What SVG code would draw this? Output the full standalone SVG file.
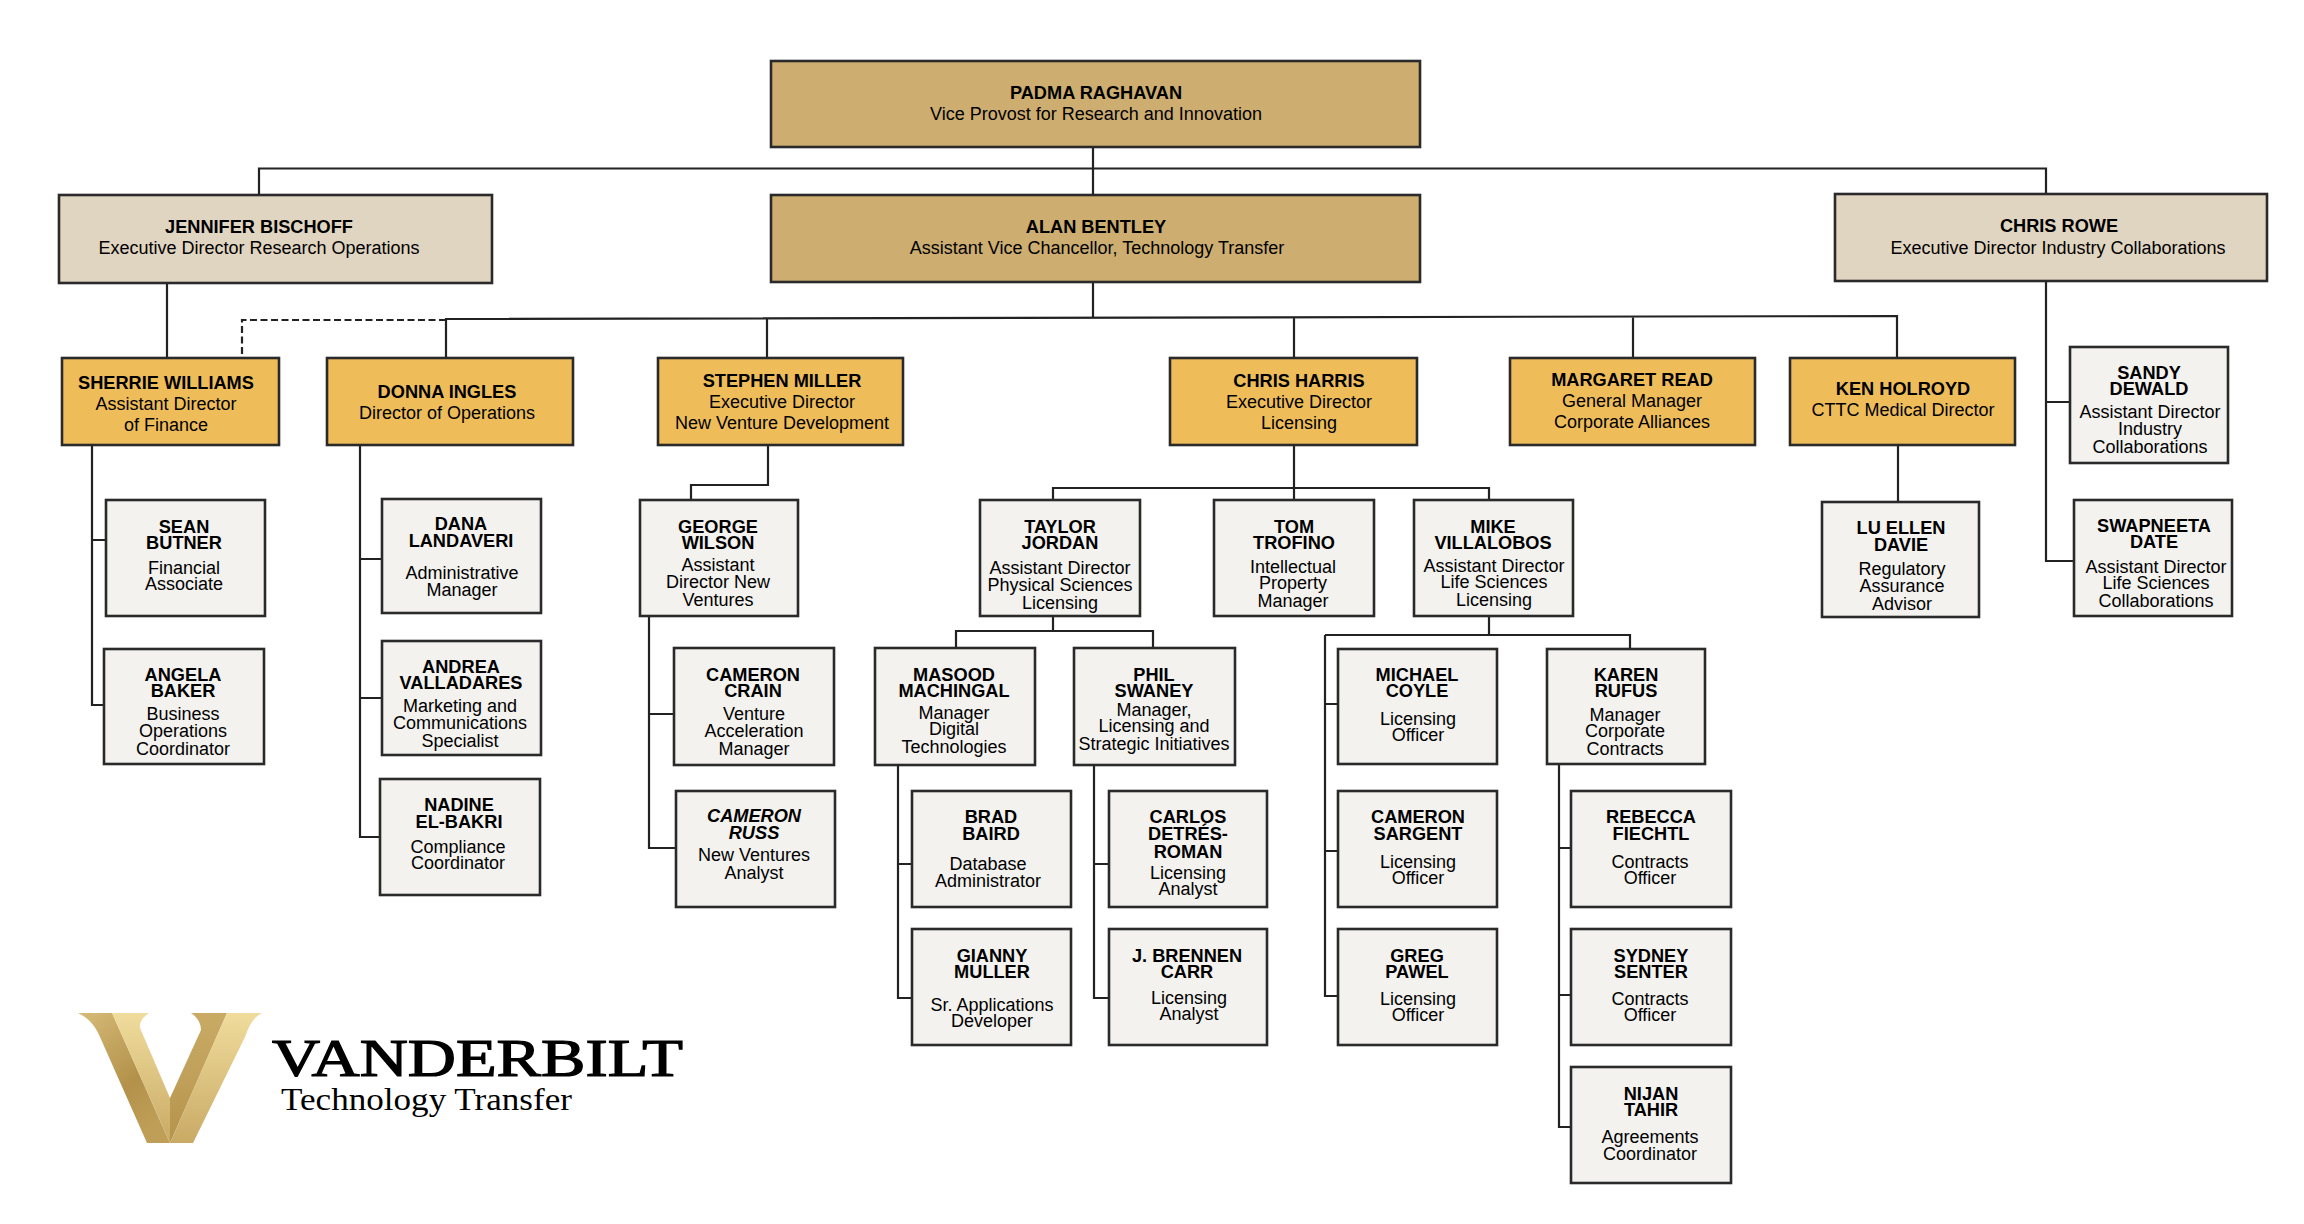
<svg xmlns="http://www.w3.org/2000/svg" width="2304" height="1224" viewBox="0 0 2304 1224">
<style>
.b{stroke:#2a2a2a;stroke-width:2.6}
.t{fill:#cdae70}.k{fill:#e0d5c0}.y{fill:#eebd5a}.w{fill:#f3f2ee}
text{font-family:"Liberation Sans",Arial,sans-serif;font-size:18px;fill:#000;text-anchor:middle}
.n{font-weight:700;font-size:18.2px}
.i{font-style:italic}
#connectors path{fill:none;stroke:#222;stroke-width:2.2}
.logo{font-family:"Liberation Serif","Times New Roman",serif;text-anchor:start}
</style>
<defs>
<linearGradient id="g1" x1="0" y1="0" x2="0.6" y2="1"><stop offset="0" stop-color="#d6bb78"/><stop offset=".65" stop-color="#b3914a"/><stop offset="1" stop-color="#bf9f57"/></linearGradient>
<linearGradient id="g2" x1="0" y1="0" x2="0" y2="1"><stop offset="0" stop-color="#f0dc9d"/><stop offset="1" stop-color="#c9aa65"/></linearGradient>
<linearGradient id="g3" x1="0" y1="0" x2="0" y2="1"><stop offset="0" stop-color="#c9ab66"/><stop offset=".5" stop-color="#c0a05a"/><stop offset="1" stop-color="#b4944a"/></linearGradient>
</defs>
<rect width="2304" height="1224" fill="#fff"/>
<g id="connectors">
<path d="M1093 147V195M259 195V168.500H2046V195"/>
<path d="M1093 282V318M446 357V319L1897 316V357M767 319V357M1294 318V357M1633 317V357"/>
<path d="M446 320H242V357" stroke-dasharray="7 3.5"/>
<path d="M167 283V357"/>
<path d="M92 445V705H104M92 540H106"/>
<path d="M360 445V837H380M360 559H382M360 698H382"/>
<path d="M768 445V485H691V500"/>
<path d="M649 616V848H676M649 714H674"/>
<path d="M1294 445V488M1053 500V488H1489V500M1294 488V500"/>
<path d="M1053 616V631M956 648V631H1153V648"/>
<path d="M898 765V998H912M898 864H912"/>
<path d="M1094 765V998H1109M1094 864H1109"/>
<path d="M1489 616V635M1325 635H1630V648M1325 635V996H1338M1325 704H1338M1325 851H1338"/>
<path d="M1559 765V1127H1571M1559 848H1571M1559 995H1571"/>
<path d="M1898 445V502"/>
<path d="M2046 282V561H2074M2046 402H2070"/>
</g>
<g id="padma"><rect class="b t" x="771" y="61" width="649" height="86"/><text class="n" x="1096" y="99">PADMA RAGHAVAN</text><text x="1096" y="120">Vice Provost for Research and Innovation</text></g>
<g id="jennifer"><rect class="b k" x="59" y="195" width="433" height="88"/><text class="n" x="259" y="233">JENNIFER BISCHOFF</text><text x="259" y="254">Executive Director Research Operations</text></g>
<g id="alan"><rect class="b t" x="771" y="195" width="649" height="87"/><text class="n" x="1096" y="233">ALAN BENTLEY</text><text x="1097" y="254">Assistant Vice Chancellor, Technology Transfer</text></g>
<g id="rowe"><rect class="b k" x="1835" y="194" width="432" height="87"/><text class="n" x="2059" y="232">CHRIS ROWE</text><text x="2058" y="254">Executive Director Industry Collaborations</text></g>
<g id="sherrie"><rect class="b y" x="62" y="358" width="217" height="87"/><text class="n" x="166" y="389">SHERRIE WILLIAMS</text><text x="166" y="410">Assistant Director</text><text x="166" y="431">of Finance</text></g>
<g id="donna"><rect class="b y" x="327" y="358" width="246" height="87"/><text class="n" x="447" y="398">DONNA INGLES</text><text x="447" y="419">Director of Operations</text></g>
<g id="stephen"><rect class="b y" x="658" y="358" width="245" height="87"/><text class="n" x="782" y="387">STEPHEN MILLER</text><text x="782" y="408">Executive Director</text><text x="782" y="429">New Venture Development</text></g>
<g id="harris"><rect class="b y" x="1170" y="358" width="247" height="87"/><text class="n" x="1299" y="387">CHRIS HARRIS</text><text x="1299" y="408">Executive Director</text><text x="1299" y="429">Licensing</text></g>
<g id="margaret"><rect class="b y" x="1510" y="358" width="245" height="87"/><text class="n" x="1632" y="386">MARGARET READ</text><text x="1632" y="407">General Manager</text><text x="1632" y="428">Corporate Alliances</text></g>
<g id="ken"><rect class="b y" x="1790" y="358" width="225" height="87"/><text class="n" x="1903" y="395">KEN HOLROYD</text><text x="1903" y="416">CTTC Medical Director</text></g>
<g id="sean"><rect class="b w" x="106" y="500" width="159" height="116"/><text class="n" x="184" y="533">SEAN</text><text class="n" x="184" y="549">BUTNER</text><text x="184" y="574">Financial</text><text x="184" y="590">Associate</text></g>
<g id="angela"><rect class="b w" x="104" y="649" width="160" height="115"/><text class="n" x="183" y="681">ANGELA</text><text class="n" x="183" y="697">BAKER</text><text x="183" y="720">Business</text><text x="183" y="737">Operations</text><text x="183" y="755">Coordinator</text></g>
<g id="dana"><rect class="b w" x="382" y="499" width="159" height="114"/><text class="n" x="461" y="530">DANA</text><text class="n" x="461" y="547">LANDAVERI</text><text x="462" y="579">Administrative</text><text x="462" y="596">Manager</text></g>
<g id="andrea"><rect class="b w" x="382" y="641" width="159" height="114"/><text class="n" x="461" y="673">ANDREA</text><text class="n" x="461" y="689">VALLADARES</text><text x="460" y="712">Marketing and</text><text x="460" y="729">Communications</text><text x="460" y="747">Specialist</text></g>
<g id="nadine"><rect class="b w" x="380" y="779" width="160" height="116"/><text class="n" x="459" y="811">NADINE</text><text class="n" x="459" y="828">EL-BAKRI</text><text x="458" y="853">Compliance</text><text x="458" y="869">Coordinator</text></g>
<g id="george"><rect class="b w" x="640" y="500" width="158" height="116"/><text class="n" x="718" y="533">GEORGE</text><text class="n" x="718" y="549">WILSON</text><text x="718" y="571">Assistant</text><text x="718" y="588">Director New</text><text x="718" y="606">Ventures</text></g>
<g id="crain"><rect class="b w" x="674" y="648" width="160" height="117"/><text class="n" x="753" y="681">CAMERON</text><text class="n" x="753" y="697">CRAIN</text><text x="754" y="720">Venture</text><text x="754" y="737">Acceleration</text><text x="754" y="755">Manager</text></g>
<g id="russ"><rect class="b w" x="676" y="791" width="159" height="116"/><text class="n i" x="754" y="822">CAMERON</text><text class="n i" x="754" y="839">RUSS</text><text x="754" y="861">New Ventures</text><text x="754" y="879">Analyst</text></g>
<g id="taylor"><rect class="b w" x="980" y="500" width="160" height="116"/><text class="n" x="1060" y="533">TAYLOR</text><text class="n" x="1060" y="549">JORDAN</text><text x="1060" y="574">Assistant Director</text><text x="1060" y="591">Physical Sciences</text><text x="1060" y="609">Licensing</text></g>
<g id="tom"><rect class="b w" x="1214" y="500" width="160" height="116"/><text class="n" x="1294" y="533">TOM</text><text class="n" x="1294" y="549">TROFINO</text><text x="1293" y="573">Intellectual</text><text x="1293" y="589">Property</text><text x="1293" y="607">Manager</text></g>
<g id="mike"><rect class="b w" x="1414" y="500" width="159" height="116"/><text class="n" x="1493" y="533">MIKE</text><text class="n" x="1493" y="549">VILLALOBOS</text><text x="1494" y="572">Assistant Director</text><text x="1494" y="588">Life Sciences</text><text x="1494" y="606">Licensing</text></g>
<g id="masood"><rect class="b w" x="875" y="648" width="160" height="117"/><text class="n" x="954" y="681">MASOOD</text><text class="n" x="954" y="697">MACHINGAL</text><text x="954" y="719">Manager</text><text x="954" y="735">Digital</text><text x="954" y="753">Technologies</text></g>
<g id="phil"><rect class="b w" x="1074" y="648" width="161" height="117"/><text class="n" x="1154" y="681">PHIL</text><text class="n" x="1154" y="697">SWANEY</text><text x="1154" y="716">Manager,</text><text x="1154" y="732">Licensing and</text><text x="1154" y="750">Strategic Initiatives</text></g>
<g id="brad"><rect class="b w" x="912" y="791" width="159" height="116"/><text class="n" x="991" y="823">BRAD</text><text class="n" x="991" y="840">BAIRD</text><text x="988" y="870">Database</text><text x="988" y="887">Administrator</text></g>
<g id="gianny"><rect class="b w" x="912" y="929" width="159" height="116"/><text class="n" x="992" y="962">GIANNY</text><text class="n" x="992" y="978">MULLER</text><text x="992" y="1011">Sr. Applications</text><text x="992" y="1027">Developer</text></g>
<g id="carlos"><rect class="b w" x="1109" y="791" width="158" height="116"/><text class="n" x="1188" y="823">CARLOS</text><text class="n" x="1188" y="840">DETRÉS-</text><text class="n" x="1188" y="858">ROMAN</text><text x="1188" y="879">Licensing</text><text x="1188" y="895">Analyst</text></g>
<g id="brennen"><rect class="b w" x="1109" y="929" width="158" height="116"/><text class="n" x="1187" y="962">J. BRENNEN</text><text class="n" x="1187" y="978">CARR</text><text x="1189" y="1004">Licensing</text><text x="1189" y="1020">Analyst</text></g>
<g id="michael"><rect class="b w" x="1338" y="649" width="159" height="115"/><text class="n" x="1417" y="681">MICHAEL</text><text class="n" x="1417" y="697">COYLE</text><text x="1418" y="725">Licensing</text><text x="1418" y="741">Officer</text></g>
<g id="sargent"><rect class="b w" x="1338" y="791" width="159" height="116"/><text class="n" x="1418" y="823">CAMERON</text><text class="n" x="1418" y="840">SARGENT</text><text x="1418" y="868">Licensing</text><text x="1418" y="884">Officer</text></g>
<g id="greg"><rect class="b w" x="1338" y="929" width="159" height="116"/><text class="n" x="1417" y="962">GREG</text><text class="n" x="1417" y="978">PAWEL</text><text x="1418" y="1005">Licensing</text><text x="1418" y="1021">Officer</text></g>
<g id="karen"><rect class="b w" x="1547" y="649" width="158" height="115"/><text class="n" x="1626" y="681">KAREN</text><text class="n" x="1626" y="697">RUFUS</text><text x="1625" y="721">Manager</text><text x="1625" y="737">Corporate</text><text x="1625" y="755">Contracts</text></g>
<g id="rebecca"><rect class="b w" x="1571" y="791" width="160" height="116"/><text class="n" x="1651" y="823">REBECCA</text><text class="n" x="1651" y="840">FIECHTL</text><text x="1650" y="868">Contracts</text><text x="1650" y="884">Officer</text></g>
<g id="sydney"><rect class="b w" x="1571" y="929" width="160" height="116"/><text class="n" x="1651" y="962">SYDNEY</text><text class="n" x="1651" y="978">SENTER</text><text x="1650" y="1005">Contracts</text><text x="1650" y="1021">Officer</text></g>
<g id="nijan"><rect class="b w" x="1571" y="1067" width="160" height="116"/><text class="n" x="1651" y="1100">NIJAN</text><text class="n" x="1651" y="1116">TAHIR</text><text x="1650" y="1143">Agreements</text><text x="1650" y="1160">Coordinator</text></g>
<g id="lu"><rect class="b w" x="1822" y="502" width="157" height="115"/><text class="n" x="1901" y="534">LU ELLEN</text><text class="n" x="1901" y="551">DAVIE</text><text x="1902" y="575">Regulatory</text><text x="1902" y="592">Assurance</text><text x="1902" y="610">Advisor</text></g>
<g id="sandy"><rect class="b w" x="2070" y="347" width="158" height="116"/><text class="n" x="2149" y="379">SANDY</text><text class="n" x="2149" y="395">DEWALD</text><text x="2150" y="418">Assistant Director</text><text x="2150" y="435">Industry</text><text x="2150" y="453">Collaborations</text></g>
<g id="swapneeta"><rect class="b w" x="2074" y="500" width="158" height="116"/><text class="n" x="2154" y="532">SWAPNEETA</text><text class="n" x="2154" y="548">DATE</text><text x="2156" y="573">Assistant Director</text><text x="2156" y="589">Life Sciences</text><text x="2156" y="607">Collaborations</text></g>
<g id="logo">
<path d="M78 1013H112L170 1143H147L100 1037C95 1025 87 1017 78 1013Z" fill="url(#g1)"/>
<path d="M112 1013H149C143 1017 139 1022 140 1028L170 1098V1143Z" fill="url(#g2)"/>
<path d="M191 1013H227L170 1143V1098L201 1030C201 1023 197 1017 191 1013Z" fill="url(#g3)"/>
<path d="M227 1013H262C254 1017 249 1025 245 1037L193 1143H170Z" fill="url(#g2)"/>
<text class="logo" x="272" y="1076" textLength="411" lengthAdjust="spacingAndGlyphs" style="font-size:52px" stroke="#000" stroke-width="1.2">VANDERBILT</text>
<text class="logo" x="281" y="1110" style="font-size:31px" textLength="291" lengthAdjust="spacingAndGlyphs">Technology Transfer</text>
</g>
</svg>
